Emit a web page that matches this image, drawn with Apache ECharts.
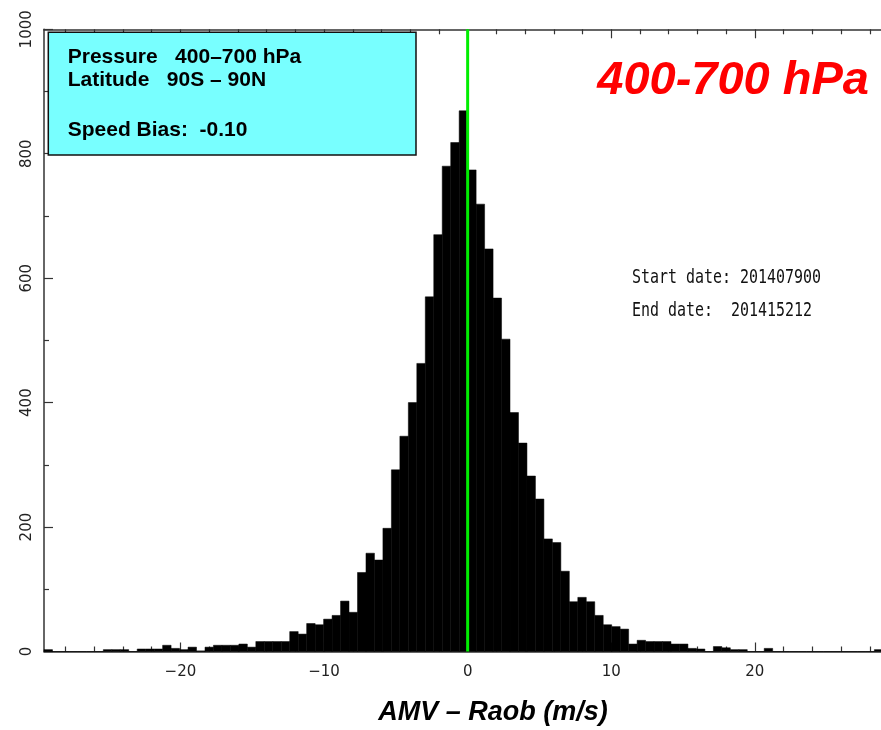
<!DOCTYPE html>
<html><head><meta charset="utf-8">
<script src="https://cdn.jsdelivr.net/npm/echarts@6/dist/echarts.min.js"></script>
<style>html,body{margin:0;padding:0;background:#fff}#c{width:881px;height:730px}</style>
</head><body><div id="c"></div><script>
// ---- data ----
const binStart = -29.5;      // left edge of first bin (m/s)
const binWidth = 0.59;       // 100 bins over [-29.5, 29.5]
const counts = [
  3, 0, 0, 0, 0, 0, 0, 3, 3, 3,
  0, 4, 4, 4, 10, 5, 3, 7, 1, 7,
  10, 10, 10, 12, 7, 16, 16, 16, 16, 32,
  28, 45, 43, 52, 58, 81, 63, 127, 158, 147,
  198, 292, 346, 400, 463, 570, 670, 780, 818, 869,
  774, 719, 647, 568, 502, 384, 335, 282, 245, 181,
  175, 129, 80, 87, 80, 58, 43, 40, 36, 12,
  18, 16, 16, 16, 12, 12, 5, 4, 0, 8,
  6, 3, 3, 0, 0, 5, 0, 0, 0, 0,
  0, 0, 0, 0, 0, 0, 0, 0, 3, 0
];
const xMajorTicks = [-20, -10, 0, 10, 20];
const xMinorTicks = [-28, -26, -24, -22, -18, -16, -14, -12, -8, -6, -4, -2,
                     2, 4, 6, 8, 12, 14, 16, 18, 22, 24, 26, 28];
const xRange = [-29.5, 29.5];
const yRange = [0, 1000];
const yStep = 200;
const zeroLineX = 0;
const infoLines = ['Pressure   400\u2013700 hPa', 'Latitude   90S \u2013 90N', 'Speed Bias:  -0.10'];
const titleText = '400-700 hPa';
const dateLines = ['Start date: 201407900', 'End date:  201415212'];
const xAxisTitle = 'AMV \u2013 Raob (m/s)';

// ---- build ----
const histData = counts.map((c, i) => [binStart + i * binWidth, binStart + (i + 1) * binWidth, c]);
const axisColor = '#333';
const fmtX = v => (v < 0 ? '\u2212' + Math.abs(v) : String(v));

function xAx(position, major, withLine) {
  return {
    type: 'value', position: position, min: xRange[0], max: xRange[1],
    axisLine: { show: withLine, onZero: false, lineStyle: { color: axisColor, width: 1.5 } },
    axisTick: { show: true, inside: true, length: major ? 9 : 5,
      customValues: major ? xMajorTicks : xMinorTicks,
      lineStyle: { color: axisColor, width: 1.2 } },
    axisLabel: { show: major && position === 'bottom', customValues: xMajorTicks,
      formatter: fmtX, fontFamily: 'DejaVu Sans', fontSize: 15, color: '#222', margin: 13 },
    splitLine: { show: false }
  };
}

const chart = echarts.init(document.getElementById('c'), null, { renderer: 'canvas' });
chart.setOption({
  animation: false,
  backgroundColor: '#fff',
  grid: { left: 44, top: 29.3, right: -10.3, bottom: 78.5, containLabel: false, outerBoundsMode: 'none' },
  xAxis: [xAx('bottom', true, true), xAx('top', true, true), xAx('top', false, false), xAx('bottom', false, false)],
  yAxis: {
    type: 'value', position: 'left', min: yRange[0], max: yRange[1], interval: yStep,
    axisLine: { show: true, onZero: false, lineStyle: { color: axisColor, width: 1.5 } },
    axisTick: { show: true, inside: true, length: 9, lineStyle: { color: axisColor, width: 1.2 } },
    minorTick: { show: true, splitNumber: 2, length: 5, lineStyle: { color: axisColor, width: 1.2 } },
    axisLabel: { rotate: 90, fontFamily: 'DejaVu Sans', fontSize: 15, color: '#222', margin: 9,
      formatter: v => String(v) },
    splitLine: { show: false }
  },
  series: [
    {
      type: 'custom', xAxisIndex: 0, yAxisIndex: 0,
      data: histData,
      encode: { x: [0, 1], y: 2 },
      renderItem: function (params, api) {
        const p0 = api.coord([api.value(0), api.value(2)]);
        const p1 = api.coord([api.value(1), 0]);
        return { type: 'rect',
          shape: { x: p0[0], y: p0[1], width: p1[0] - p0[0], height: p1[1] - p0[1] },
          style: { fill: '#000', stroke: '#000', lineWidth: 0.5 } };
      },
      z: 2
    },
    {
      type: 'line', xAxisIndex: 0, yAxisIndex: 0,
      data: [[zeroLineX, yRange[0]], [zeroLineX, yRange[1]]],
      symbol: 'none', lineStyle: { color: '#00EE00', width: 3 }, z: 3
    }
  ],
  graphic: [
    { type: 'rect', z: 10, shape: { x: 48.3, y: 32.3, width: 367.7, height: 122.7 },
      style: { fill: '#78FFFF', stroke: '#111', lineWidth: 1.5 } },
    { type: 'text', z: 11, x: 67.7, y: 57, style: { text: infoLines[0], fill: '#000',
      font: 'bold 21px "Liberation Sans", Arial, sans-serif', verticalAlign: 'middle' } },
    { type: 'text', z: 11, x: 67.7, y: 80, style: { text: infoLines[1], fill: '#000',
      font: 'bold 21px "Liberation Sans", Arial, sans-serif', verticalAlign: 'middle' } },
    { type: 'text', z: 11, x: 67.7, y: 130, style: { text: infoLines[2], fill: '#000',
      font: 'bold 21px "Liberation Sans", Arial, sans-serif', verticalAlign: 'middle' } },
    { type: 'text', z: 11, x: 869, y: 81.5, style: { text: titleText, fill: '#FF0000', align: 'right',
      font: 'italic bold 47px "Liberation Sans", Arial, sans-serif', verticalAlign: 'middle' } },
    { type: 'text', z: 11, x: 632, y: 278.4, scaleX: 0.787, style: { text: dateLines[0], fill: '#111',
      font: '19px "DejaVu Sans Mono", monospace', verticalAlign: 'middle' } },
    { type: 'text', z: 11, x: 632, y: 311, scaleX: 0.787, style: { text: dateLines[1], fill: '#111',
      font: '19px "DejaVu Sans Mono", monospace', verticalAlign: 'middle' } },
    { type: 'text', z: 11, x: 493, y: 712.2, style: { text: xAxisTitle, fill: '#000', align: 'center',
      font: 'italic bold 27px "Liberation Sans", Arial, sans-serif', verticalAlign: 'middle' } }
  ]
});
</script></body></html>
